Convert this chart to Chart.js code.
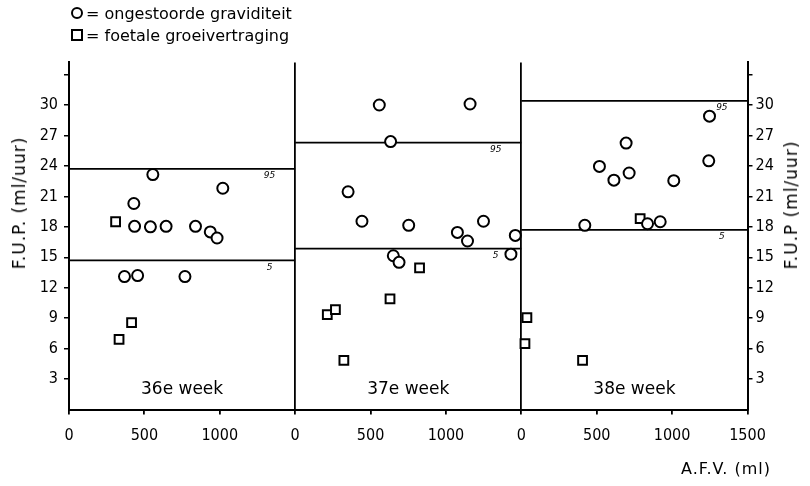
<!DOCTYPE html>
<html>
<head>
<meta charset="utf-8">
<script src="https://cdn.jsdelivr.net/npm/chart.js@4.4.0/dist/chart.umd.min.js"></script>
<style>
  body { margin: 0; background: #fff; }
  #wrap { position: relative; width: 810px; height: 486px; font-family: 'DejaVu Sans', sans-serif; color: #000; }
  canvas { position: absolute; left: 0; top: 0; }
  .lbl { position: absolute; white-space: nowrap; font-size: 16px; line-height: 18px; }
  .rot { transform: translate(-50%, -50%) rotate(-90deg); font-size: 17px; letter-spacing: 1px; }
  .sym { display: inline-block; width: 8px; height: 8px; border: 2px solid #000; margin-right: 3px; vertical-align: 0px; }
  .circ { border-radius: 50%; }
</style>
</head>
<body>
<div id="wrap">
  <canvas id="fup" width="810" height="486"></canvas>
  <div class="lbl" style="left:71px;top:5px"><span class="sym circ"></span>= ongestoorde graviditeit</div>
  <div class="lbl" style="left:71px;top:27px"><span class="sym"></span>= foetale groeivertraging</div>
  <div class="lbl rot" style="left:19px;top:203px">F.U.P. (ml/uur)</div>
  <div class="lbl rot" style="left:791px;top:205px">F.U.P (ml/uur)</div>
  <div class="lbl" style="left:681px;top:460px;letter-spacing:1px">A.F.V. (ml)</div>
</div>
<script>
// panels: one per week, x in ml within the panel
const weeks = ['36e week', '37e week', '38e week'];
const panelWidth = 1500;

// [A.F.V. ml, F.U.P. ml/uur]
const week36Normal = [[556, 23.15], [1020, 21.8], [430, 20.3], [435, 18.05], [540, 18.0], [644, 18.05],
  [839, 18.05], [937, 17.5], [982, 16.9], [368, 13.1], [455, 13.2], [769, 13.1]];
const week36Growth = [[309, 18.5], [415, 8.55], [332, 6.9]];

const week37Normal = [[558, 30.0], [1160, 30.1], [633, 26.4], [351, 21.45], [443, 18.55], [753, 18.15],
  [1249, 18.55], [1076, 17.45], [1143, 16.6], [1460, 17.15], [1431, 15.3], [651, 15.15], [689, 14.5]];
const week37Growth = [[825, 13.95], [629, 10.9], [213, 9.35], [267, 9.85], [323, 4.85]];

const week38Normal = [[1248, 28.9], [695, 26.25], [518, 23.95], [715, 23.3], [614, 22.6], [1011, 22.55],
  [1243, 24.5], [421, 18.15], [837, 18.3], [921, 18.5]];
const week38Growth = [[788, 18.8], [37, 9.05], [24, 6.5], [406, 4.85]];

// percentile lines per week
const p95 = [23.7, 26.3, 30.4];
const p5 = [14.7, 15.85, 17.7];

const yTicks = [3, 6, 9, 12, 15, 18, 21, 24, 27, 30, 33];
const xTicks = [0, 500, 1000];

const tickFont = { family: "'DejaVu Sans Condensed', 'Liberation Sans Narrow', 'DejaVu Sans'", size: 16 };

// shift each panel along one long x scale
function place(list, i) {
  return list.map(p => ({ x: p[0] + i * panelWidth, y: p[1] }));
}
const normalAll = [].concat(place(week36Normal, 0), place(week37Normal, 1), place(week38Normal, 2));
const growthAll = [].concat(place(week36Growth, 0), place(week37Growth, 1), place(week38Growth, 2));

const lineSets = [];
weeks.forEach((w, i) => {
  [p95[i], p5[i]].forEach(v => {
    lineSets.push({
      data: [{ x: i * panelWidth, y: v }, { x: (i + 1) * panelWidth, y: v }],
      showLine: true, borderColor: '#000', borderWidth: 1.8, pointRadius: 0
    });
  });
});

const allXTicks = [];
weeks.forEach((w, i) => xTicks.forEach(t => allXTicks.push(t + i * panelWidth)));
allXTicks.push(weeks.length * panelWidth);

const annot = {
  id: 'annot',
  afterDatasetsDraw(chart) {
    const { ctx, scales: { x, y } } = chart;
    ctx.save();
    ctx.fillStyle = '#000';
    ctx.textAlign = 'center';
    ctx.textBaseline = 'middle';
    ctx.font = "17px 'DejaVu Sans'";
    weeks.forEach((w, i) => {
      ctx.fillText(w, x.getPixelForValue(i * panelWidth + panelWidth / 2), y.getPixelForValue(2));
    });
    ctx.font = "italic 9px 'DejaVu Sans'";
    weeks.forEach((w, i) => {
      const px = x.getPixelForValue(i * panelWidth + 1330);
      ctx.fillText('95', px, y.getPixelForValue(p95[i]) + 7);
      ctx.fillText('5', px, y.getPixelForValue(p5[i]) + 7);
    });
    ctx.restore();
  }
};

const yScale = (pos, width, pad) => ({
  type: 'linear', position: pos, min: 0, max: 34.2,
  afterBuildTicks: s => { s.ticks = yTicks.map(v => ({ value: v })); },
  afterFit: s => { s.width = width; },
  ticks: { color: '#000', font: tickFont, padding: pad, callback: v => (v === 33 ? '' : v) },
  grid: { drawOnChartArea: false, tickLength: 5, tickColor: '#000', lineWidth: 1.5 },
  border: { display: true, color: '#000', width: 2 }
});

new Chart(document.getElementById('fup'), {
  type: 'scatter',
  data: {
    datasets: [
      { data: normalAll, pointStyle: 'circle', pointRadius: 5.5, borderWidth: 2, borderColor: '#000', backgroundColor: '#fff' },
      { data: growthAll, pointStyle: 'rect', pointRadius: 6.2, borderWidth: 2, borderColor: '#000', backgroundColor: '#fff' }
    ].concat(lineSets)
  },
  options: {
    responsive: false,
    animation: false,
    layout: { padding: { top: 62.4, left: 0, right: 0, bottom: 0 } },
    plugins: { legend: { display: false }, tooltip: { enabled: false } },
    scales: {
      x: {
        type: 'linear', min: 0, max: weeks.length * panelWidth,
        afterBuildTicks: s => { s.ticks = allXTicks.map(v => ({ value: v })); },
        afterFit: s => { s.height = 76.5; },
        ticks: {
          color: '#000', font: tickFont, padding: 12, maxRotation: 0, autoSkip: false,
          callback: v => (v === weeks.length * panelWidth ? '1500' : v % panelWidth)
        },
        grid: {
          color: c => (c.tick && c.tick.value % panelWidth === 0 ? '#000' : 'rgba(0,0,0,0)'),
          tickColor: '#000', tickLength: 5, lineWidth: 1.8
        },
        border: { display: true, color: '#000', width: 2 }
      },
      y: yScale('left', 69, 6),
      y2: yScale('right', 62.5, 3)
    }
  },
  plugins: [annot]
});
</script>
</body>
</html>
